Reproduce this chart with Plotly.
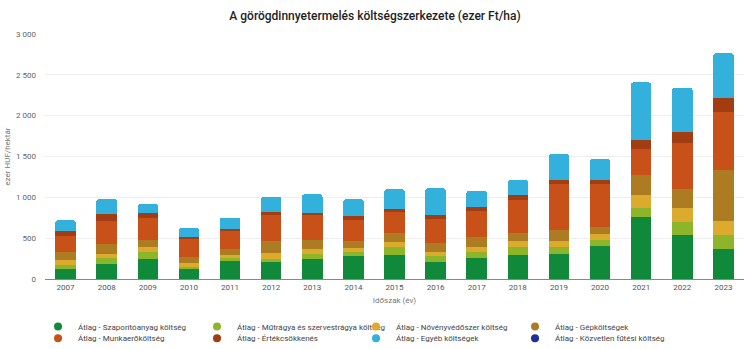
import plotly.graph_objects as go

years = [str(y) for y in range(2007, 2024)]

szaporito = [122, 183, 251, 122, 215, 203, 244, 284, 300, 211, 256, 300, 312, 406, 756, 540, 370]
mutragya = [44, 77, 78, 28, 41, 48, 65, 49, 86, 65, 69, 98, 82, 73, 114, 159, 170]
novenyvedo = [61, 49, 57, 49, 37, 70, 57, 49, 73, 57, 61, 69, 73, 74, 158, 167, 171]
gep = [98, 122, 97, 73, 73, 146, 110, 89, 110, 110, 134, 94, 138, 85, 245, 239, 622]
munkaero = [203, 284, 269, 216, 223, 317, 308, 256, 256, 296, 317, 403, 554, 528, 320, 562, 717]
ertekcsokkenes = [61, 85, 53, 32, 28, 33, 25, 45, 29, 42, 45, 64, 56, 42, 106, 139, 162]
egyeb = [131, 180, 114, 102, 135, 191, 228, 204, 244, 329, 199, 183, 314, 260, 708, 536, 553]
futesi = [0] * 17

series_names = [
    "Átlag - Szaporítóanyag költség",
    "Átlag - Műtrágya és szervestrágya költség",
    "Átlag - Növényvédőszer költség",
    "Átlag - Gépköltségek",
    "Átlag - Munkaerőköltség",
    "Átlag - Értékcsökkenés",
    "Átlag - Egyéb költségek",
    "Átlag - Közvetlen fűtési költség",
]
series_values = [szaporito, mutragya, novenyvedo, gep, munkaero, ertekcsokkenes, egyeb, futesi]
colors = ["#11893a", "#8cb52c", "#dcaa2c", "#ad7b22", "#c85119", "#a23c12", "#34b0dc", "#1f2e9c"]

ytickvals = [0, 500, 1000, 1500, 2000, 2500, 3000]
yticktext = ["0", "500", "1 000", "1 500", "2 000", "2 500", "3 000"]

fig = go.Figure()
for name, vals, col in zip(series_names, series_values, colors):
    fig.add_trace(go.Bar(x=years, y=vals, name=name, marker=dict(color=col, line=dict(width=0)),
                         showlegend=False))
for i, (name, col) in enumerate(zip(series_names, colors)):
    fig.add_trace(go.Scatter(x=[None], y=[None], mode="markers", name=name,
                             legend="legend" if i < 4 else "legend2",
                             marker=dict(color=col, size=8, symbol="circle")))

leg_common = dict(orientation="h", xref="container", yref="container",
                  xanchor="left", yanchor="top", traceorder="normal",
                  entrywidth=114, entrywidthmode="pixels",
                  font=dict(family="Roboto", size=8, color="#444"), itemwidth=30,
                  bgcolor="rgba(0,0,0,0)")

fig.update_layout(
    width=750, height=349,
    barmode="stack", bargap=0.5, barcornerradius=3,
    plot_bgcolor="white", paper_bgcolor="white",
    font=dict(family="Roboto", size=8, color="#555"),
    margin=dict(l=41, r=6, t=34, b=70),
    title=dict(text="A görögdinnyetermelés költségszerkezete (ezer Ft/ha)",
               x=0.5, xanchor="center", y=0.955, yanchor="middle",
               font=dict(family="Roboto", size=12, weight=500, color="#1e1e1e")),
    legend=dict(x=0.0507, y=0.106, **leg_common),
    legend2=dict(x=0.0507, y=0.072, **leg_common),
    showlegend=True,
)
fig.update_xaxes(type="category", showgrid=False, showline=True, linecolor="#888", linewidth=1,
                 ticks="", tickfont=dict(size=8, color="#555"),
                 title=dict(text="Időszak (év)", font=dict(size=8, color="#777"), standoff=6))
fig.update_yaxes(range=[0, 3000], tickvals=ytickvals, ticktext=yticktext, showgrid=True,
                 gridcolor="#eeeeee", gridwidth=1, zeroline=False, showline=False,
                 tickfont=dict(size=8, color="#666"), ticks="", ticklabelstandoff=8,
                 title=dict(text="ezer HUF/hektár", font=dict(size=8, color="#777"), standoff=4))

fig.write_html("out.html")
